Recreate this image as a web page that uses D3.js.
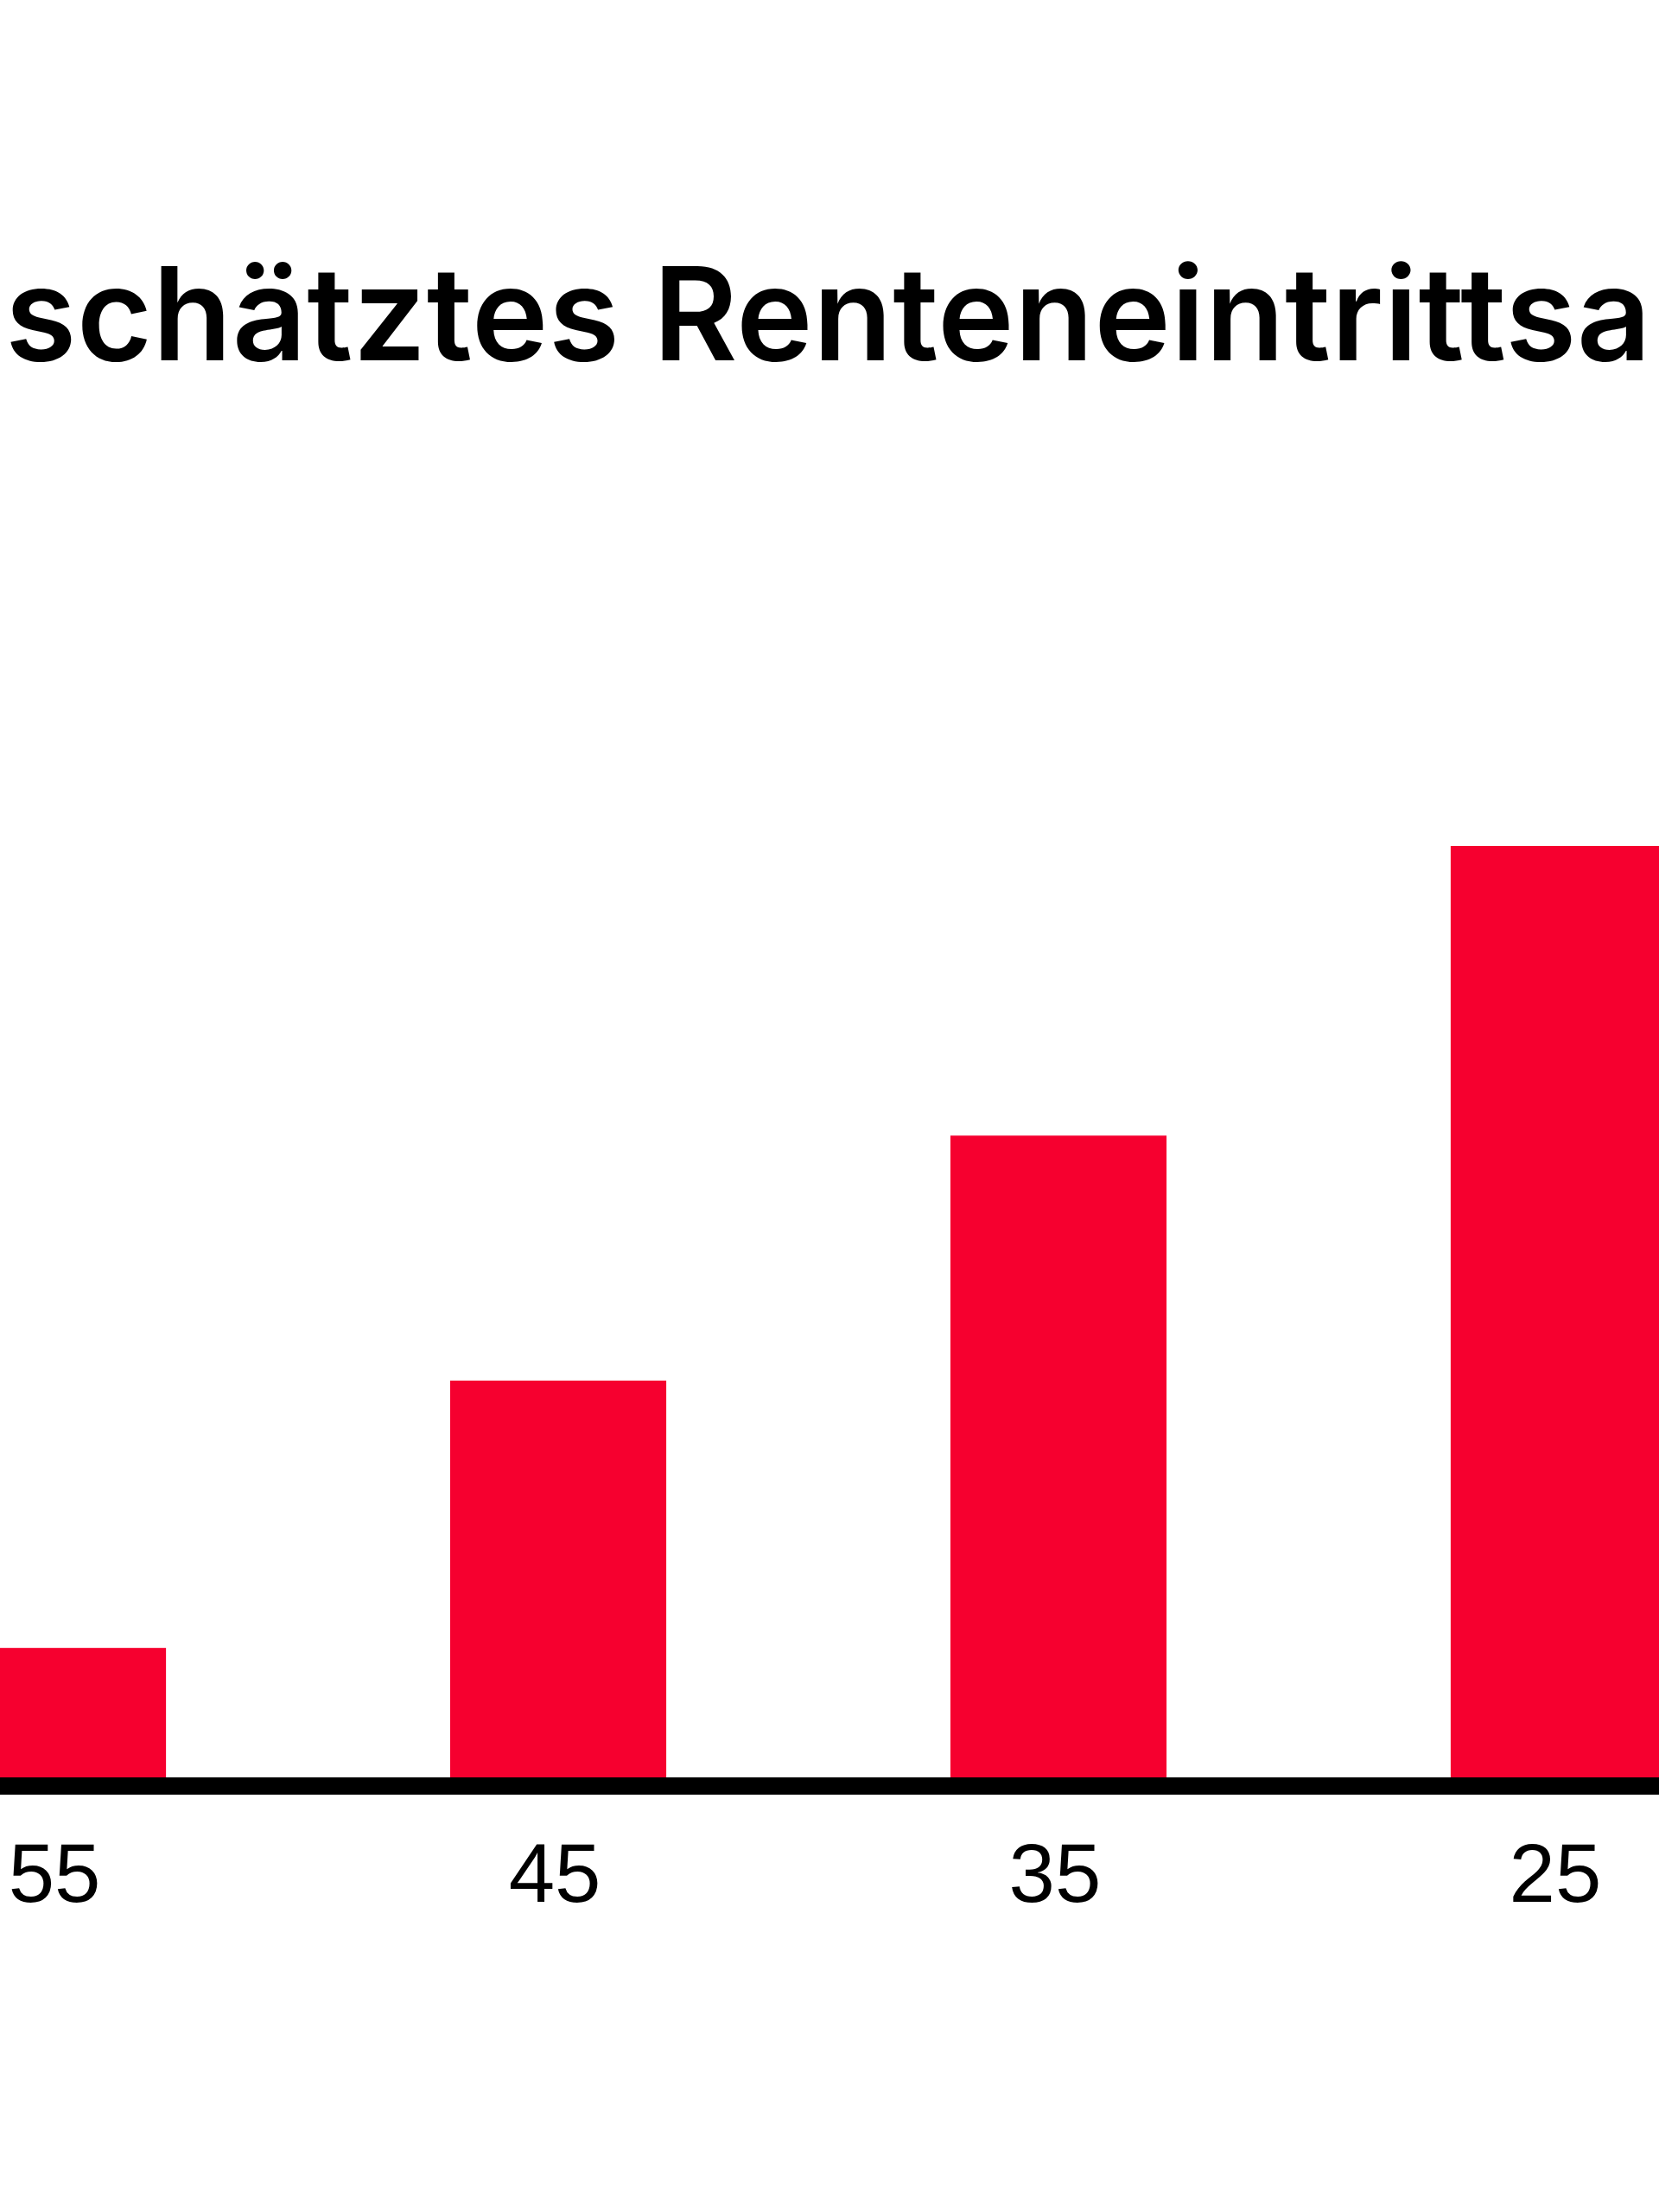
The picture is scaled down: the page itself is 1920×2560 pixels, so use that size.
<!DOCTYPE html>
<html>
<head>
<meta charset="utf-8">
<script src="https://cdn.jsdelivr.net/npm/d3@7"></script>
<style>
  html, body { margin: 0; padding: 0; background: #ffffff; overflow: hidden; }
  svg { display: block; }
</style>
</head>
<body>
<svg id="chart" width="1920" height="2560"></svg>
<script>
// ---- data ----
const titleText = "schätztes Renteneintrittsa";
const categories = ["55", "45", "35", "25"];
const values = [13.9, 42.6, 68.9, 100];   // relative bar heights
const tickLabels = ["55", "45", "35", "25"];

// ---- layout ----
const W = 1920, H = 2560;
const svg = d3.select("#chart");
svg.append("rect").attr("width", W).attr("height", H).attr("fill", "#ffffff");

const baseY = 2057;     // top of axis line
const axisY = 2067;     // centre of thick axis line

const x = d3.scaleBand()
  .domain(categories)
  .range([-58, 1929])
  .paddingInner(0.568)
  .paddingOuter(0);

const y = d3.scaleLinear()
  .domain([0, 100])
  .range([baseY, 979]);

// title
const title = svg.append("text")
  .attr("x", 6)
  .attr("y", 417)
  .attr("font-family", "Inter, 'Noto Sans', sans-serif")
  .attr("font-weight", 600)
  .attr("font-size", 150)
  .attr("fill", "#000000")
  .text(titleText);
const tl = title.node().getComputedTextLength();
const targetLen = 1905;
if (Math.abs(tl - targetLen) > 2) {
  title.attr("textLength", targetLen).attr("lengthAdjust", "spacing");
}

// bars
svg.append("g")
  .selectAll("rect")
  .data(categories.map((c, i) => ({ c, v: values[i] })))
  .join("rect")
  .attr("x", d => x(d.c))
  .attr("y", d => y(d.v))
  .attr("width", x.bandwidth())
  .attr("height", d => baseY - y(d.v))
  .attr("fill", "#f6002f");

// axis
const axis = d3.axisBottom(x)
  .tickSize(0)
  .tickPadding(66)
  .tickFormat((d, i) => tickLabels[i]);

const gAxis = svg.append("g")
  .attr("transform", `translate(0,${axisY})`)
  .call(axis);

gAxis.select(".domain")
  .attr("stroke", "#000000")
  .attr("stroke-width", 20)
  .attr("d", `M-60,0H1990`);

gAxis.selectAll(".tick text")
  .attr("font-family", "'Liberation Sans', Arial, sans-serif")
  .attr("font-size", 96)
  .attr("dx", -4)
  .attr("fill", "#000000");
</script>
</body>
</html>
